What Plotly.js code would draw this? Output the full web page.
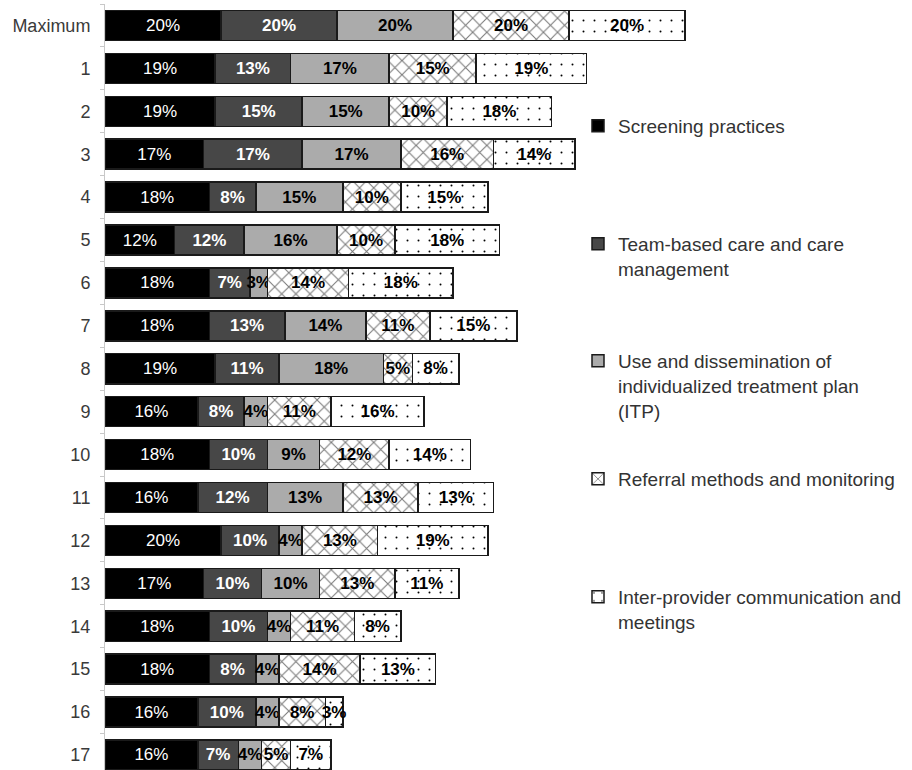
<!DOCTYPE html>
<html>
<head>
<meta charset="utf-8">
<script src="https://cdn.plot.ly/plotly-3.0.1.min.js"></script>
<style>html,body{margin:0;padding:0;background:#fff;}#chart{width:912px;height:770px;}</style>
</head>
<body>
<div id="chart"></div>
<script>
var categories = ["Maximum","1","2","3","4","5","6","7","8","9","10","11","12","13","14","15","16","17"];
var seriesNames = [
  "Screening practices",
  "Team-based care and care<br>management",
  "Use and dissemination of<br>individualized treatment plan<br>(ITP)",
  "Referral methods and monitoring",
  "Inter-provider communication and<br>meetings"
];
var screening   = [20,19,19,17,18,12,18,18,19,16,18,16,20,17,18,18,16,16];
var teamBased   = [20,13,15,17, 8,12, 7,13,11, 8,10,12,10,10,10, 8,10, 7];
var itpUse      = [20,17,15,17,15,16, 3,14,18, 4, 9,13, 4,10, 4, 4, 4, 4];
var referral    = [20,15,10,16,10,10,14,11, 5,11,12,13,13,13,11,14, 8, 5];
var interProv   = [20,19,18,14,15,18,18,15, 8,16,14,13,19,11, 8,13, 3, 7];

var FONT = "'Liberation Sans', Arial, sans-serif";
var outline = {color: '#1a1a1a', width: 1.5};

function mk(vals, idx, marker, tcol, tweight) {
  return {
    type: 'bar', orientation: 'h', x: vals, y: categories, name: seriesNames[idx],
    marker: Object.assign({line: outline}, marker),
    texttemplate: '%{x}%', textposition: 'inside', insidetextanchor: 'middle',
    constraintext: 'none', textangle: 0, cliponaxis: false,
    textfont: {family: FONT, size: 17, color: tcol, weight: tweight},
    legend: idx === 0 ? 'legend' : 'legend' + (idx + 1),
    hoverinfo: 'skip'
  };
}

var data = [
  mk(screening, 0, {color: '#000000'}, '#ffffff', 'normal'),
  mk(teamBased, 1, {color: '#474747'}, '#ffffff', 'bold'),
  mk(itpUse, 2, {color: '#ababab'}, '#000000', 'bold'),
  mk(referral, 3, {color: '#ffffff', pattern: {shape: 'x', size: 10, solidity: 0.2, fgcolor: '#7a7a7a', bgcolor: '#ffffff', fillmode: 'replace'}}, '#000000', 'bold'),
  mk(interProv, 4, {color: '#ffffff', pattern: {shape: '.', size: 11, solidity: 0.025, fgcolor: '#000000', bgcolor: '#ffffff', fillmode: 'replace'}}, '#000000', 'bold')
];

var legTops = [127, 245, 362, 480, 598];
function legendAt(py) {
  return {
    x: (578 - 105) / 807, xanchor: 'left',
    y: (770 - (py - 20)) / 766, yanchor: 'top',
    valign: 'top', bgcolor: 'rgba(0,0,0,0)', borderwidth: 0,
    font: {family: FONT, size: 19, color: '#333333'},
    itemclick: false, itemdoubleclick: false
  };
}

var layout = {
  width: 912, height: 770,
  margin: {l: 105, r: 0, t: 4, b: 0, pad: 0, autoexpand: false},
  paper_bgcolor: '#ffffff', plot_bgcolor: '#ffffff',
  barmode: 'stack', bargap: 0.3,
  showlegend: true,
  xaxis: {range: [0, 807 / 5.8], showticklabels: false, showgrid: false, zeroline: false, showline: false, ticks: '', fixedrange: true},
  yaxis: {type: 'category', range: [17.35, -0.5], showgrid: false, zeroline: false,
          showline: true, linecolor: '#c8c8c8', linewidth: 1,
          ticks: 'outside', tickson: 'boundaries', ticklen: 4, tickcolor: '#c8c8c8',
          ticklabelstandoff: 10,
          tickfont: {family: FONT, size: 18, color: '#3a3a3a'}, fixedrange: true},
  legend: legendAt(legTops[0]),
  legend2: legendAt(legTops[1]),
  legend3: legendAt(legTops[2]),
  legend4: legendAt(legTops[3]),
  legend5: legendAt(legTops[4])
};

Plotly.newPlot('chart', data, layout, {displayModeBar: false, staticPlot: true});
</script>
</body>
</html>
